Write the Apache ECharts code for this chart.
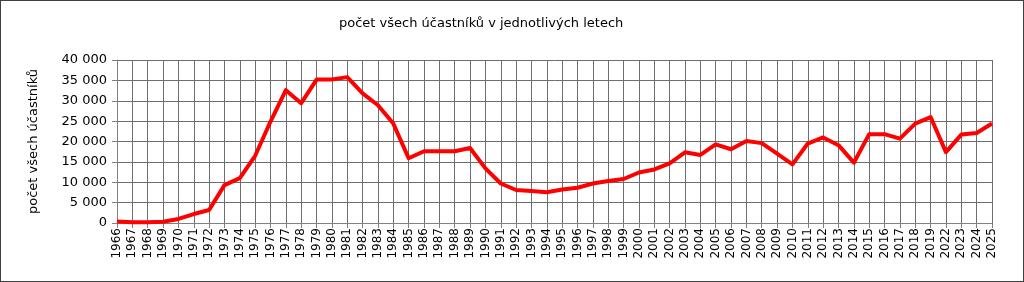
<!DOCTYPE html>
<html>
<head>
<meta charset="utf-8">
<script src="https://cdn.jsdelivr.net/npm/echarts@6/dist/echarts.min.js"></script>
<style>
html,body{margin:0;padding:0;background:#fff;}
#c{width:1024px;height:282px;box-sizing:border-box;border:1px solid #404040;}
</style>
</head>
<body>
<div id="c"></div>
<script>
var titleText = "počet všech účastníků v jednotlivých letech";
var yAxisName = "počet všech účastníků";
var years = ["1966","1967","1968","1969","1970","1971","1972","1973","1974","1975",
  "1976","1977","1978","1979","1980","1981","1982","1983","1984","1985",
  "1986","1987","1988","1989","1990","1991","1992","1993","1994","1995",
  "1996","1997","1998","1999","2000","2001","2002","2003","2004","2005",
  "2006","2007","2008","2009","2010","2011","2012","2013","2014","2015",
  "2016","2017","2018","2019","2022","2023","2024","2025"];
var participants = [350,200,200,300,1000,2200,3200,9300,11000,16500,
  24900,32600,29400,35200,35200,35800,31800,28900,24400,15900,
  17600,17600,17600,18400,13400,9700,8100,7850,7550,8200,
  8650,9700,10300,10800,12400,13150,14650,17350,16700,19300,
  18100,20100,19600,17000,14400,19500,21000,19100,14800,21800,
  21800,20700,24400,26000,17400,21700,22100,24400];

var chart = echarts.init(document.getElementById('c'), null, {renderer:'canvas'});
var font = "DejaVu Sans";
chart.setOption({
  animation:false,
  backgroundColor:'#ffffff',
  title:{
    text:titleText, left:333, top:11,
    textStyle:{fontFamily:font, fontSize:13, fontWeight:'normal', color:'#000'}
  },
  grid:{left:116, right:31, top:59, bottom:58, containLabel:false},
  xAxis:{
    type:'category', data:years, boundaryGap:false,
    axisLine:{show:true, lineStyle:{color:'#808080', width:1}},
    axisTick:{show:true, length:5, interval:0, lineStyle:{color:'#808080'}},
    axisLabel:{interval:0, rotate:90, fontFamily:font, fontSize:12, color:'#000', margin:5},
    splitLine:{show:true, interval:0, lineStyle:{color:'#6e6e6e', width:1}}
  },
  yAxis:{
    type:'value', min:0, max:40000, interval:5000,
    name:yAxisName, nameLocation:'middle', nameGap:77, nameRotate:90,
    nameTextStyle:{fontFamily:font, fontSize:13, color:'#000'},
    axisLine:{show:true, lineStyle:{color:'#808080'}},
    axisTick:{show:true, length:5, lineStyle:{color:'#808080'}},
    axisLabel:{fontFamily:font, fontSize:13, color:'#000', margin:10,
      formatter:function(v){return String(v).replace(/\B(?=(\d{3})+(?!\d))/g,' ');}},
    splitLine:{show:true, lineStyle:{color:'#6e6e6e', width:1}}
  },
  series:[{
    type:'line', data:participants, symbol:'none',
    lineStyle:{color:'#ff0000', width:4, join:'round'},
    itemStyle:{color:'#ff0000'}
  }]
});
</script>
</body>
</html>
